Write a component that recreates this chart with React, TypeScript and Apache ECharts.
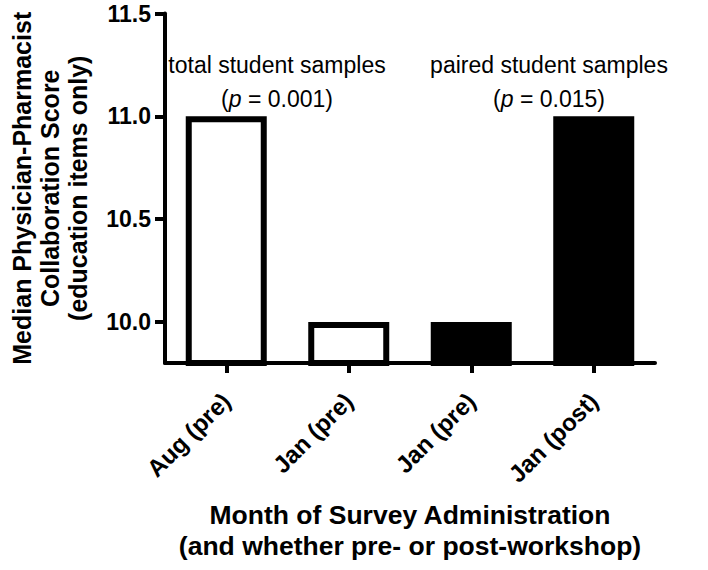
import React, { useEffect, useRef } from "react";
import * as echarts from "echarts";

const categories = ["Aug (pre)", "Jan (pre)", "Jan (pre)", "Jan (post)"];
const medianScores = [11.0, 10.0, 10.0, 11.0];
const barFills = ["#ffffff", "#ffffff", "#000000", "#000000"];
const yTicks = [10.0, 10.5, 11.0, 11.5];

const FONT = '"Liberation Sans", Arial, Helvetica, sans-serif';

export default function App() {
  const ref = useRef<HTMLDivElement>(null);
  useEffect(() => {
    if (!ref.current) return;
    const chart = echarts.init(ref.current, null, { renderer: "svg" });
    const rich = {
      n: { fontFamily: FONT, fontSize: 23, color: "#000" },
      i: { fontFamily: FONT, fontSize: 23, color: "#000", fontStyle: "italic" },
    };
    chart.setOption({
      animation: false,
      backgroundColor: "#ffffff",
      textStyle: { fontFamily: FONT },
      grid: { left: 163, right: 53, top: 13.5, bottom: 207, containLabel: false },
      xAxis: {
        type: "category",
        data: categories,
        name: "Month of Survey Administration\n(and whether pre- or post-workshop)",
        nameLocation: "middle",
        nameGap: 136,
        nameTextStyle: { fontFamily: FONT, fontSize: 26.5, fontWeight: "bold", color: "#000", lineHeight: 31 },
        axisLine: { show: true, lineStyle: { color: "#000", width: 4 } },
        axisTick: { show: true, alignWithLabel: true, length: 10, lineStyle: { color: "#000", width: 4 } },
        axisLabel: { rotate: 45, margin: 34, fontFamily: FONT, fontSize: 24, fontWeight: "bold", color: "#000" },
        splitLine: { show: false },
      },
      yAxis: {
        type: "value",
        min: 9.8,
        max: 11.5,
        name: "Median Physician-Pharmacist\nCollaboration Score\n(education items only)",
        nameLocation: "middle",
        nameRotate: 90,
        nameGap: 73,
        nameTextStyle: { fontFamily: FONT, fontSize: 25, fontWeight: "bold", color: "#000", lineHeight: 28 },
        axisLine: { show: true, lineStyle: { color: "#000", width: 4 } },
        axisTick: { show: true, length: 10, customValues: yTicks, lineStyle: { color: "#000", width: 4 } },
        axisLabel: {
          customValues: yTicks,
          margin: 14,
          fontFamily: FONT,
          fontSize: 23,
          fontWeight: "bold",
          color: "#000",
          formatter: (v: number) => v.toFixed(1),
        },
        splitLine: { show: false },
      },
      series: [
        {
          type: "bar",
          barWidth: 81,
          data: medianScores.map((v, i) => ({
            value: v,
            itemStyle: { color: barFills[i], borderColor: "#000", borderWidth: 6 },
          })),
        },
      ],
      graphic: [
        {
          type: "text",
          x: 277,
          y: 82,
          style: {
            text: "{n|total student samples}\n{n|(}{i|p}{n| = 0.001)}",
            rich,
            align: "center",
            verticalAlign: "middle",
            lineHeight: 34,
          },
        },
        {
          type: "text",
          x: 549,
          y: 82,
          style: {
            text: "{n|paired student samples}\n{n|(}{i|p}{n| = 0.015)}",
            rich,
            align: "center",
            verticalAlign: "middle",
            lineHeight: 34,
          },
        },
      ],
    });
    return () => chart.dispose();
  }, []);
  return <div ref={ref} style={{ position: "fixed", left: 0, top: 0, width: 708, height: 570 }} />;
}
